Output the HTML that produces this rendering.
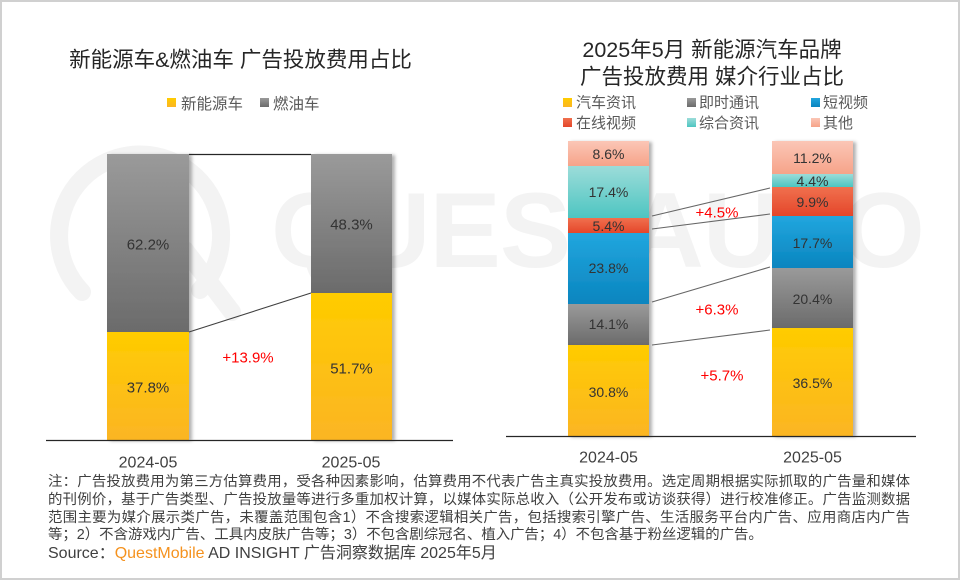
<!DOCTYPE html>
<html>
<head>
<meta charset="utf-8">
<style>
  html,body{margin:0;padding:0;background:#fff;}
  #page{position:relative;width:960px;height:580px;box-sizing:border-box;border:2px solid #d0d0d0;overflow:hidden;background:#fff;
    font-family:"Liberation Sans","Noto Sans CJK SC",sans-serif;}
  svg{position:absolute;left:-2px;top:-2px;}
  .note{position:absolute;left:46px;width:862px;font-size:14.4px;line-height:17.8px;color:#404040;white-space:nowrap;
    font-family:"Liberation Sans","Noto Sans CJK SC",sans-serif;}
  .j{text-align:justify;text-align-last:justify;white-space:normal;}
</style>
</head>
<body>
<div id="page">
<svg width="960" height="580" viewBox="0 0 960 580" xmlns="http://www.w3.org/2000/svg" font-family="Liberation Sans, Noto Sans CJK SC, sans-serif">
  <defs>
    <linearGradient id="gY" x1="0" y1="0" x2="0" y2="1"><stop offset="0" stop-color="#ffcc00"/><stop offset="1" stop-color="#fbb524"/></linearGradient>
    <linearGradient id="gG" x1="0" y1="0" x2="0" y2="1"><stop offset="0" stop-color="#9a9a9a"/><stop offset="1" stop-color="#6b6b6b"/></linearGradient>
    <linearGradient id="gB" x1="0" y1="0" x2="0" y2="1"><stop offset="0" stop-color="#22a6de"/><stop offset="1" stop-color="#0a85bf"/></linearGradient>
    <linearGradient id="gR" x1="0" y1="0" x2="0" y2="1"><stop offset="0" stop-color="#f0704e"/><stop offset="1" stop-color="#e4462a"/></linearGradient>
    <linearGradient id="gT" x1="0" y1="0" x2="0" y2="1"><stop offset="0" stop-color="#9cdcd9"/><stop offset="1" stop-color="#4dc5c1"/></linearGradient>
    <linearGradient id="gP" x1="0" y1="0" x2="0" y2="1"><stop offset="0" stop-color="#fbc6b6"/><stop offset="1" stop-color="#f6a389"/></linearGradient>
    <filter id="sh" x="-20%" y="-5%" width="150%" height="115%">
      <feDropShadow dx="3" dy="1" stdDeviation="1.6" flood-color="#000" flood-opacity="0.3"/>
    </filter>
  </defs>

  <!-- watermark -->
  <g fill="none" stroke="#f3f3f3" stroke-width="18" stroke-linecap="round">
    <path d="M 82 292 A 81 81 0 1 1 200 290"/>
    <path d="M 185 250 L 232 312"/>
  </g>
  <text x="271" y="267" font-size="107" font-weight="bold" fill="#f3f3f3" font-family="Liberation Sans, sans-serif" letter-spacing="-1">QUESTAUTO</text>

  <!-- ===== Left chart ===== -->
  <text x="240.5" y="67" font-size="21.5" fill="#262626" text-anchor="middle">新能源车&amp;燃油车 广告投放费用占比</text>
  <rect x="167" y="98" width="9" height="9" fill="url(#gY)"/>
  <text x="181" y="109" font-size="15.5" fill="#595959">新能源车</text>
  <rect x="260" y="98" width="9" height="9" fill="url(#gG)"/>
  <text x="273" y="109" font-size="15.5" fill="#595959">燃油车</text>

  <g filter="url(#sh)">
    <rect x="107" y="154" width="82" height="178" fill="url(#gG)"/>
    <rect x="107" y="332" width="82" height="108" fill="url(#gY)"/>
  </g>
  <g filter="url(#sh)">
    <rect x="311" y="154" width="81" height="139" fill="url(#gG)"/>
    <rect x="311" y="293" width="81" height="147" fill="url(#gY)"/>
  </g>
  <line x1="189" y1="154.5" x2="311" y2="154.5" stroke="#262626" stroke-width="1.2"/>
  <line x1="189" y1="332" x2="311" y2="293" stroke="#404040" stroke-width="1.1"/>
  <line x1="46" y1="440.5" x2="453" y2="440.5" stroke="#262626" stroke-width="1.3"/>

  <g font-size="15" fill="#333" text-anchor="middle">
    <text x="148" y="249.4">62.2%</text>
    <text x="148" y="392.4">37.8%</text>
    <text x="351.5" y="229.4">48.3%</text>
    <text x="351.5" y="373.4">51.7%</text>
  </g>
  <text x="248" y="362.4" font-size="15" fill="#ff0000" text-anchor="middle">+13.9%</text>
  <g font-size="16" fill="#404040" text-anchor="middle">
    <text x="148" y="467.7">2024-05</text>
    <text x="351" y="467.7">2025-05</text>
  </g>

  <!-- ===== Right chart ===== -->
  <text x="712" y="57" font-size="21.5" fill="#262626" text-anchor="middle">2025年5月 新能源汽车品牌</text>
  <text x="712" y="84" font-size="21.5" fill="#262626" text-anchor="middle">广告投放费用 媒介行业占比</text>

  <g font-size="15" fill="#595959">
    <rect x="563" y="98" width="9" height="9" fill="url(#gY)"/>
    <text x="576" y="107.7">汽车资讯</text>
    <rect x="687" y="98" width="9" height="9" fill="url(#gG)"/>
    <text x="699" y="107.7">即时通讯</text>
    <rect x="811" y="98" width="9" height="9" fill="url(#gB)"/>
    <text x="823" y="107.7">短视频</text>
    <rect x="563" y="118" width="9" height="9" fill="url(#gR)"/>
    <text x="576" y="128.2">在线视频</text>
    <rect x="687" y="118" width="9" height="9" fill="url(#gT)"/>
    <text x="699" y="128.2">综合资讯</text>
    <rect x="811" y="118" width="9" height="9" fill="url(#gP)"/>
    <text x="823" y="128.2">其他</text>
  </g>

  <g filter="url(#sh)">
    <rect x="568" y="141" width="81" height="25" fill="url(#gP)"/>
    <rect x="568" y="166" width="81" height="52" fill="url(#gT)"/>
    <rect x="568" y="218" width="81" height="15" fill="url(#gR)"/>
    <rect x="568" y="233" width="81" height="71" fill="url(#gB)"/>
    <rect x="568" y="304" width="81" height="41" fill="url(#gG)"/>
    <rect x="568" y="345" width="81" height="91" fill="url(#gY)"/>
  </g>
  <g filter="url(#sh)">
    <rect x="772" y="141" width="81" height="33" fill="url(#gP)"/>
    <rect x="772" y="174" width="81" height="13" fill="url(#gT)"/>
    <rect x="772" y="187" width="81" height="29" fill="url(#gR)"/>
    <rect x="772" y="216" width="81" height="52" fill="url(#gB)"/>
    <rect x="772" y="268" width="81" height="60" fill="url(#gG)"/>
    <rect x="772" y="328" width="81" height="108" fill="url(#gY)"/>
  </g>
  <g stroke="#666" stroke-width="1.1">
    <line x1="652" y1="216" x2="770" y2="188"/>
    <line x1="652" y1="229" x2="770" y2="214"/>
    <line x1="652" y1="302" x2="770" y2="267"/>
    <line x1="652" y1="345" x2="770" y2="330"/>
  </g>
  <line x1="506" y1="436.5" x2="916" y2="436.5" stroke="#262626" stroke-width="1.3"/>

  <g font-size="14" fill="#333" text-anchor="middle">
    <text x="608.5" y="159">8.6%</text>
    <text x="608.5" y="197">17.4%</text>
    <text x="608.5" y="231">5.4%</text>
    <text x="608.5" y="273">23.8%</text>
    <text x="608.5" y="329">14.1%</text>
    <text x="608.5" y="397">30.8%</text>
    <text x="812.5" y="163">11.2%</text>
    <text x="812.5" y="186">4.4%</text>
    <text x="812.5" y="207">9.9%</text>
    <text x="812.5" y="248">17.7%</text>
    <text x="812.5" y="304">20.4%</text>
    <text x="812.5" y="388">36.5%</text>
  </g>
  <g font-size="15" fill="#ff0000" text-anchor="middle">
    <text x="717" y="217.4">+4.5%</text>
    <text x="717" y="314.4">+6.3%</text>
    <text x="722" y="380.4">+5.7%</text>
  </g>
  <g font-size="16" fill="#404040" text-anchor="middle">
    <text x="608.5" y="462.7">2024-05</text>
    <text x="812.5" y="462.7">2025-05</text>
  </g>
</svg>

<div class="note j" style="top:472px;">注：广告投放费用为第三方估算费用，受各种因素影响，估算费用不代表广告主真实投放费用。选定周期根据实际抓取的广告量和媒体</div>
<div class="note j" style="top:489.8px;">的刊例价，基于广告类型、广告投放量等进行多重加权计算，以媒体实际总收入（公开发布或访谈获得）进行校准修正。广告监测数据</div>
<div class="note j" style="top:507.6px;">范围主要为媒介展示类广告，未覆盖范围包含1）不含搜索逻辑相关广告，包括搜索引擎广告、生活服务平台内广告、应用商店内广告</div>
<div class="note" style="top:525.4px;">等；2）不含游戏内广告、工具内皮肤广告等；3）不包含剧综冠名、植入广告；4）不包含基于粉丝逻辑的广告。</div>
<div class="note" style="top:543px;font-size:16px;line-height:18px;">Source：<span style="color:#f5921e;">QuestMobile</span> AD INSIGHT 广告洞察数据库 2025年5月</div>
</div>
</body>
</html>
